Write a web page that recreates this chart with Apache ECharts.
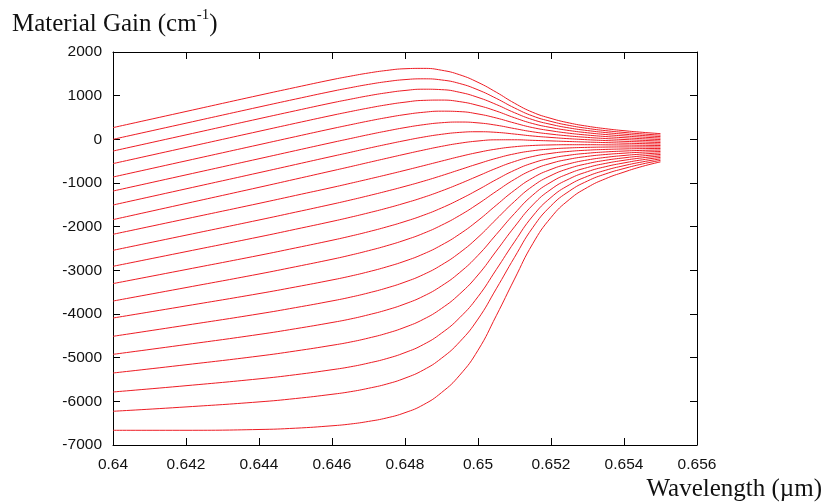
<!DOCTYPE html>
<html>
<head>
<meta charset="utf-8">
<script src="https://cdn.jsdelivr.net/npm/echarts@6/dist/echarts.min.js"></script>
<style>
html,body{margin:0;padding:0;background:#fff;}
#chart{width:823px;height:504px;}
</style>
</head>
<body>
<div id="chart"></div>
<script>
// Wavelength sample points (µm)
const wavelengths = [0.640, 0.642, 0.644, 0.645, 0.646, 0.6465, 0.647, 0.6475, 0.648, 0.6485, 0.649, 0.6495, 0.650, 0.6505, 0.651, 0.6515, 0.652, 0.6525, 0.653, 0.6535, 0.654, 0.6545, 0.655];

// Material gain curves (cm^-1), top to bottom
const g01 = [268, 638, 1008, 1189, 1366, 1446, 1519, 1578, 1617, 1625, 1583, 1478, 1305, 1079, 828, 619, 479, 375, 300, 243, 198, 161, 130];
const g02 = [0, 370, 740, 922, 1100, 1182, 1258, 1322, 1368, 1386, 1360, 1278, 1133, 938, 719, 534, 410, 318, 250, 199, 158, 124, 96];
const g03 = [-268, 102, 472, 655, 835, 918, 998, 1066, 1119, 1148, 1138, 1077, 960, 798, 610, 450, 342, 260, 201, 155, 118, 88, 62];
const g04 = [-556, -186, 184, 368, 549, 635, 717, 791, 851, 892, 899, 863, 776, 648, 494, 361, 270, 201, 150, 110, 78, 51, 28];
const g05 = [-863, -493, -123, 62, 245, 333, 419, 498, 567, 619, 645, 635, 581, 489, 373, 268, 196, 139, 97, 64, 37, 14, -6];
const g06 = [-1184, -814, -444, -258, -73, 17, 107, 191, 269, 334, 380, 396, 377, 324, 246, 172, 119, 77, 44, 18, -4, -23, -40];
const g07 = [-1504, -1134, -764, -577, -390, -298, -204, -114, -28, 51, 115, 159, 174, 160, 121, 76, 43, 14, -9, -28, -45, -60, -74];
const g08 = [-1839, -1469, -1099, -911, -722, -627, -530, -434, -339, -247, -161, -89, -38, -11, -10, -23, -36, -50, -63, -75, -87, -98, -108];
const g09 = [-2175, -1821, -1467, -1285, -1103, -1008, -911, -812, -710, -605, -499, -394, -300, -223, -170, -141, -128, -123, -123, -126, -130, -136, -142];
const g10 = [-2542, -2195, -1847, -1668, -1486, -1391, -1291, -1187, -1077, -960, -832, -696, -561, -435, -332, -262, -221, -197, -184, -177, -174, -174, -176];
const g11 = [-2908, -2572, -2235, -2059, -1880, -1785, -1684, -1577, -1459, -1330, -1182, -1017, -840, -663, -508, -393, -321, -276, -248, -231, -220, -213, -210];
const g12 = [-3304, -2982, -2658, -2487, -2312, -2218, -2116, -2005, -1881, -1740, -1572, -1375, -1155, -922, -708, -541, -433, -363, -318, -288, -268, -253, -244];
const g13 = [-3703, -3395, -3084, -2918, -2747, -2653, -2550, -2437, -2307, -2155, -1967, -1742, -1479, -1191, -917, -697, -550, -454, -390, -347, -317, -294, -278];
const g14 = [-4092, -3815, -3533, -3381, -3221, -3133, -3033, -2920, -2788, -2627, -2422, -2168, -1860, -1509, -1167, -882, -688, -559, -472, -413, -370, -337, -312];
const g15 = [-4511, -4257, -3997, -3854, -3701, -3616, -3517, -3404, -3268, -3099, -2877, -2595, -2244, -1830, -1422, -1071, -828, -665, -556, -479, -424, -380, -346];
const g16 = [-4924, -4700, -4468, -4337, -4195, -4115, -4018, -3907, -3769, -3594, -3357, -3049, -2657, -2179, -1699, -1277, -980, -780, -645, -550, -480, -424, -380];
const g17 = [-5351, -5162, -4963, -4847, -4717, -4643, -4551, -4442, -4303, -4123, -3873, -3540, -3106, -2559, -2004, -1503, -1145, -905, -740, -625, -540, -469, -414];
const g18 = [-5786, -5642, -5485, -5390, -5276, -5210, -5124, -5021, -4884, -4701, -4439, -4083, -3604, -2984, -2347, -1757, -1330, -1043, -846, -707, -603, -517, -448];
const g19 = [-6228, -6128, -6013, -5936, -5839, -5780, -5701, -5604, -5469, -5284, -5013, -4636, -4116, -3423, -2702, -2021, -1522, -1187, -954, -791, -668, -565, -482];
const g20 = [-6663, -6663, -6645, -6615, -6560, -6520, -6460, -6380, -6260, -6080, -5800, -5400, -4830, -4040, -3200, -2390, -1790, -1380, -1100, -900, -750, -620, -516];

const curves = [g01, g02, g03, g04, g05, g06, g07, g08, g09, g10, g11, g12, g13, g14, g15, g16, g17, g18, g19, g20];

// Axis ticks
const xMin = 0.640, xMax = 0.656, xStep = 0.002;
const yMin = -7000, yMax = 2000, yStep = 1000;

const yTitle = 'Material Gain (cm';
const ySup = '-1';
const xTitle = 'Wavelength (\u00b5m)';

const chart = echarts.init(document.getElementById('chart'), null, {renderer: 'canvas'});

const tickFont = {fontFamily: 'Liberation Sans, Arial, sans-serif', fontSize: 15.5, color: '#111'};
const axisLine = {show: true, onZero: false, lineStyle: {color: '#000', width: 1}};
const axisTick = {show: true, inside: true, length: 7, lineStyle: {color: '#000', width: 1}};

const series = curves.map((c, i) => ({
  type: 'line',
  name: 'c' + (i + 1),
  data: wavelengths.map((w, k) => [w, c[k]]),
  showSymbol: false,
  smooth: 0.5,
  lineStyle: {color: '#ee1c24', width: 1},
  xAxisIndex: 0,
  yAxisIndex: 0,
  animation: false
}));

chart.setOption({
  animation: false,
  backgroundColor: '#fff',
  grid: {left: 113, right: 126, top: 52, bottom: 59, containLabel: false},
  xAxis: [
    {type: 'value', min: xMin, max: xMax, interval: xStep, position: 'bottom',
     axisLine: axisLine, axisTick: axisTick, splitLine: {show: false},
     axisLabel: Object.assign({margin: 12, formatter: v => String(parseFloat(v.toFixed(3)))}, tickFont)},
    {type: 'value', min: xMin, max: xMax, interval: xStep, position: 'top',
     axisLine: axisLine, axisTick: axisTick, splitLine: {show: false}, axisLabel: {show: false}}
  ],
  yAxis: [
    {type: 'value', min: yMin, max: yMax, interval: yStep, position: 'left',
     axisLine: axisLine, axisTick: axisTick, splitLine: {show: false},
     axisLabel: Object.assign({margin: 11, formatter: v => String(v)}, tickFont)},
    {type: 'value', min: yMin, max: yMax, interval: yStep, position: 'right',
     axisLine: axisLine, axisTick: axisTick, splitLine: {show: false}, axisLabel: {show: false}}
  ],
  graphic: [
    {type: 'text', left: 12, top: 8, style: {
      text: '{a|' + yTitle + '}{s|' + ySup + '}{a|)}',
      rich: {
        a: {fontFamily: 'Liberation Serif, Times New Roman, serif', fontSize: 25, fill: '#111', verticalAlign: 'bottom', lineHeight: 29},
        s: {fontFamily: 'Liberation Serif, Times New Roman, serif', fontSize: 15, fill: '#111', verticalAlign: 'top', lineHeight: 29, padding: [0, 0, 11, 0]}
      }
    }},
    {type: 'text', right: 1, top: 477, style: {
      text: xTitle, fontFamily: 'Liberation Serif, Times New Roman, serif', fontSize: 25, fill: '#111'
    }}
  ],
  series: series
});
</script>
</body>
</html>
